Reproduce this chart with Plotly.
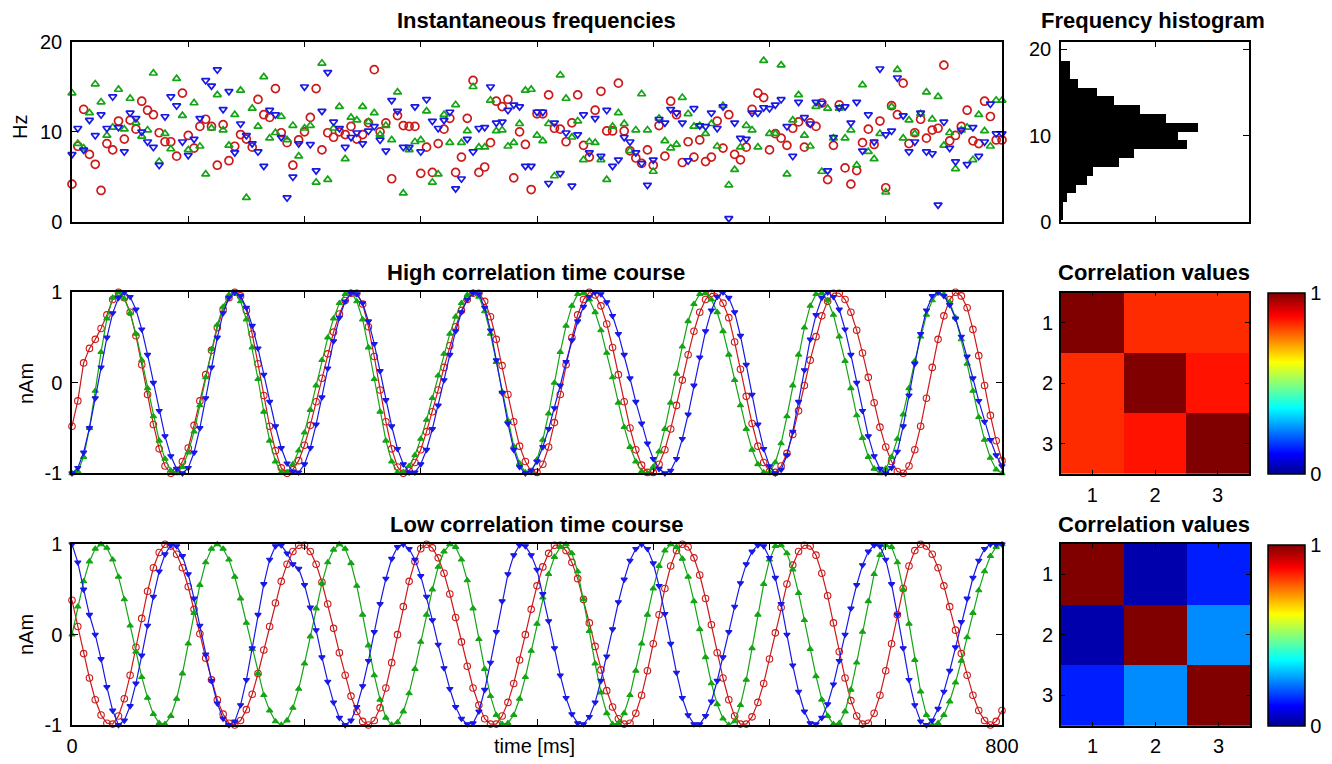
import plotly.graph_objects as go

W, H = 1332, 764
FONT = "Liberation Sans, Arial, sans-serif"

# sample times (ms), 5 ms sampling grid
time_ms = list(range(0, 805, 5))

# ---------------- instantaneous frequencies (Hz) ----------------
freq_red = [4.2, 8.4, 12.5, 7.5, 6.4, 3.5, 8.7, 8.0, 11.2, 9.2,
            11.3, 10.3, 13.4, 12.4, 11.9, 9.9, 8.9, 8.9, 7.3, 14.3,
            9.6, 8.2, 10.6, 11.4, 10.6, 6.3, 10.8, 6.8, 8.4, 9.7,
            9.2, 8.3, 13.6, 11.9, 11.6, 14.8, 9.9, 8.8, 6.3, 9.1,
            10.0, 11.6, 14.8, 8.0, 9.9, 9.4, 10.0, 9.7, 10.6, 9.2,
            9.7, 11.0, 16.9, 10.0, 11.0, 4.8, 11.8, 10.7, 10.6, 10.6,
            5.4, 8.3, 5.5, 8.7, 10.3, 11.5, 5.5, 7.2, 11.5, 15.7,
            5.5, 6.1, 8.8, 13.4, 12.8, 13.6, 4.9, 10.0, 8.6, 3.6,
            12.0, 12.0, 14.1, 10.4, 10.3, 8.9, 11.0, 14.1, 8.5, 7.2,
            12.4, 14.5, 10.1, 10.1, 15.4, 10.1, 7.9, 7.1, 6.5, 8.0,
            6.3, 10.7, 7.3, 13.4, 11.9, 6.6, 8.9, 7.2, 9.1, 6.7,
            7.2, 11.2, 8.2, 11.9, 7.5, 6.9, 8.3, 12.5, 14.3, 13.8,
            8.0, 9.8, 9.3, 8.5, 10.4, 11.1, 8.3, 11.0, 10.6, 13.2,
            4.7, 8.5, 13.0, 6.0, 4.2, 5.7, 8.8, 10.3, 8.6, 11.2,
            3.8, 12.9, 11.9, 15.4, 8.7, 9.9, 11.4, 9.3, 10.2, 10.4,
            17.4, 9.0, 9.6, 10.6, 12.4, 9.0, 8.7, 13.4, 11.7, 9.1, 9.1]
freq_green = [14.3, 8.7, 8.2, 12.1, 15.3, 13.3, 9.6, 10.5, 14.7, 10.3,
              13.7, 11.0, 9.5, 10.2, 16.5, 6.7, 9.8, 8.1, 15.9, 11.8,
              8.0, 13.2, 8.4, 5.3, 10.4, 14.1, 10.2, 8.5, 11.9, 14.6,
              2.7, 12.6, 10.6, 16.1, 9.3, 9.9, 11.7, 9.1, 10.7, 7.3,
              10.4, 10.7, 4.4, 17.6, 4.7, 10.4, 12.8, 7.0, 11.6, 11.3,
              12.8, 11.1, 12.1, 9.7, 10.7, 9.1, 14.4, 3.2, 8.0, 8.9,
              9.1, 12.3, 4.4, 5.3, 11.9, 8.8, 13.0, 8.8, 10.1, 15.0,
              8.3, 8.3, 13.5, 10.1, 10.2, 8.4, 8.8, 10.9, 14.6, 14.7,
              9.6, 9.0, 10.9, 5.1, 16.3, 13.7, 9.4, 11.2, 6.9, 8.9,
              8.8, 6.9, 4.7, 10.6, 12.1, 10.9, 7.9, 10.2, 14.2, 10.2,
              5.6, 11.5, 9.0, 8.2, 8.6, 13.8, 12.0, 10.6, 10.7, 9.8,
              10.9, 8.4, 12.9, 4.1, 5.8, 8.3, 10.7, 10.2, 8.3, 17.9,
              9.8, 9.8, 17.4, 5.3, 11.3, 14.1, 9.6, 8.4, 12.8, 5.6,
              12.6, 9.3, 12.6, 9.3, 10.2, 6.3, 15.2, 7.8, 7.0, 9.8,
              3.3, 12.8, 16.9, 9.3, 11.3, 9.8, 12.0, 14.4, 11.4, 13.9,
              8.5, 9.9, 5.9, 10.2, 10.5, 6.9, 11.9, 10.1, 8.4, 13.5, 13.5]
freq_blue = [7.5, 10.4, 8.0, 11.3, 9.6, 11.9, 10.4, 13.9, 10.5, 7.8,
             12.1, 11.5, 10.0, 8.9, 8.3, 6.3, 11.7, 13.9, 12.9, 8.9,
             7.4, 9.2, 11.5, 15.7, 15.1, 16.9, 12.5, 14.5, 7.7, 10.9,
             9.6, 8.7, 7.8, 6.2, 12.4, 11.9, 9.4, 2.7, 5.0, 8.7,
             15.0, 8.6, 5.7, 12.3, 16.6, 11.1, 10.4, 8.3, 9.4, 9.9,
             8.7, 10.1, 10.6, 9.1, 7.9, 13.5, 12.3, 8.3, 8.3, 12.8,
             7.8, 13.6, 11.2, 10.4, 11.3, 12.2, 3.7, 4.8, 9.2, 7.8,
             10.4, 10.5, 15.0, 11.0, 11.1, 12.4, 13.0, 12.8, 6.2, 6.2,
             12.2, 12.2, 4.3, 11.0, 5.4, 9.9, 4.0, 9.7, 11.9, 7.7,
             11.5, 7.3, 12.4, 6.2, 6.9, 9.4, 8.9, 7.7, 6.5, 4.1,
             6.9, 11.4, 11.0, 12.5, 12.1, 11.0, 6.8, 12.6, 10.7, 10.6,
             12.1, 10.4, 12.8, 0.4, 11.0, 9.3, 9.2, 12.1, 12.1, 12.7,
             12.6, 13.0, 13.6, 10.6, 7.3, 13.3, 11.6, 10.9, 13.3, 13.2,
             5.7, 9.4, 12.7, 12.8, 11.0, 13.3, 7.9, 11.9, 8.9, 17.0,
             9.7, 10.1, 16.0, 11.8, 7.8, 8.9, 12.1, 7.8, 7.6, 1.9,
             11.1, 8.2, 6.7, 10.2, 6.4, 10.5, 7.3, 8.9, 13.1, 9.8, 9.8]

# ---------------- frequency histogram ----------------
hist_centers = [0.81, 1.83, 2.85, 3.87, 4.89, 5.91, 6.93, 7.95, 8.97, 9.99,
                11.01, 12.03, 13.05, 14.07, 15.09, 16.11, 17.13, 18.15]
hist_counts = [1, 1, 3, 8, 14, 17, 31, 39, 67, 62,
               73, 56, 42, 28, 19, 9, 5, 5]

# ---------------- high correlation time course (nAm) ----------------
high_red = [-0.48, -0.2, 0.22, 0.38, 0.48, 0.6, 0.75, 0.92, 1.0,
            0.94, 0.78, 0.52, 0.2, -0.13, -0.46, -0.73, -0.92, -1.0,
            -0.97, -0.87, -0.72, -0.47, -0.2, 0.09, 0.36, 0.61, 0.81, 0.94, 1.0,
            0.96, 0.8, 0.54, 0.21, -0.14, -0.48, -0.75, -0.94, -1.0,
            -0.96, -0.86, -0.69, -0.47, -0.21, 0.05, 0.32, 0.56, 0.76, 0.91, 0.99,
            0.99, 0.87, 0.62, 0.29, -0.08, -0.43, -0.73, -0.93, -1.0,
            -0.97, -0.88, -0.74, -0.54, -0.32, -0.08, 0.17, 0.41, 0.62, 0.8, 0.92, 0.99,
            0.99, 0.9, 0.73, 0.48, 0.19, -0.13, -0.43, -0.7, -0.87, -0.98,
            -0.99, -0.9, -0.71, -0.44, -0.13, 0.2, 0.5, 0.75, 0.92, 1.0,
            0.97, 0.85, 0.65, 0.39, 0.09, -0.21, -0.5, -0.74, -0.91, -0.99,
            -0.99, -0.9, -0.74, -0.51, -0.25, 0.03, 0.31, 0.57, 0.78, 0.92, 0.99,
            0.98, 0.88, 0.72, 0.45, 0.15, -0.15, -0.45, -0.7, -0.88, -0.98,
            -0.99, -0.92, -0.78, -0.57, -0.31, -0.03, 0.25, 0.51, 0.74, 0.9, 0.99,
            0.99, 0.92, 0.78, 0.58, 0.33, 0.06, -0.22, -0.49, -0.71, -0.87, -0.98,
            -1.0, -0.92, -0.74, -0.48, -0.17, 0.17, 0.48, 0.74, 0.92, 1.0,
            0.96, 0.83, 0.59, 0.3, -0.03, -0.36, -0.64, -0.86]
high_green = [-1.0,
              -0.98, -0.82, -0.5, -0.09, 0.34, 0.71, 0.94,
              1.0, 0.93, 0.77, 0.54, 0.25, -0.06, -0.37, -0.64, -0.84, -0.97,
              -1.0, -0.93, -0.77, -0.54, -0.25, 0.06, 0.37, 0.64, 0.84, 0.97,
              1.0, 0.9, 0.7, 0.39, 0.04, -0.32, -0.64, -0.87, -0.99,
              -0.99, -0.9, -0.75, -0.55, -0.3, -0.03, 0.25, 0.5, 0.71, 0.88, 0.98,
              1.0, 0.9, 0.7, 0.39, 0.04, -0.32, -0.64, -0.87, -0.99,
              -0.99, -0.92, -0.8, -0.62, -0.41, -0.17, 0.08, 0.32, 0.54, 0.73, 0.88, 0.97, 1.0,
              0.95, 0.79, 0.54, 0.23, -0.1, -0.42, -0.7, -0.89, -0.99,
              -0.98, -0.85, -0.63, -0.34, 0.0, 0.34, 0.63, 0.85, 0.98,
              0.99, 0.92, 0.78, 0.58, 0.33, 0.06, -0.22, -0.49, -0.71, -0.87, -0.98,
              -1.0, -0.93, -0.76, -0.51, -0.22, 0.1, 0.4, 0.68, 0.87, 0.98,
              0.99, 0.92, 0.78, 0.57, 0.31, 0.03, -0.25, -0.51, -0.74, -0.9, -0.99,
              -0.99, -0.88, -0.67, -0.37, -0.03, 0.31, 0.61, 0.85, 0.98,
              0.99, 0.91, 0.75, 0.51, 0.24, -0.06, -0.36, -0.61, -0.82, -0.95,
              -1.0, -0.95, -0.82, -0.62, -0.35, -0.06, 0.24, 0.51, 0.75, 0.91, 0.99,
              0.98, 0.89, 0.72, 0.48, 0.21, -0.09, -0.38, -0.63, -0.83, -0.96, -1.0]
high_blue = [-1.0, -0.94, -0.77, -0.5, -0.17, 0.17, 0.5, 0.77, 0.94, 1.0,
             0.95, 0.81, 0.59, 0.31, 0.0, -0.31, -0.59, -0.81, -0.95, -1.0,
             -0.94, -0.77, -0.5, -0.17, 0.17, 0.5, 0.77, 0.94, 1.0,
             0.96, 0.83, 0.63, 0.38, 0.09, -0.21, -0.48, -0.72, -0.89, -0.98,
             -0.99, -0.9, -0.72, -0.46, -0.16, 0.16, 0.46, 0.72, 0.9, 0.99,
             0.98, 0.88, 0.68, 0.43, 0.13, -0.19, -0.48, -0.73, -0.9, -0.99,
             -0.99, -0.9, -0.74, -0.51, -0.25, 0.03, 0.31, 0.57, 0.78, 0.92, 0.99,
             0.98, 0.83, 0.58, 0.25, -0.11, -0.45, -0.74, -0.93, -1.0,
             -0.97, -0.87, -0.71, -0.51, -0.28, -0.03, 0.23, 0.47, 0.68, 0.84, 0.95, 1.0,
             0.98, 0.89, 0.74, 0.54, 0.31, 0.05, -0.21, -0.45, -0.67, -0.84, -0.95, -1.0,
             -0.97, -0.84, -0.62, -0.35, -0.03, 0.28, 0.57, 0.8, 0.95, 1.0,
             0.94, 0.78, 0.52, 0.2, -0.13, -0.46, -0.73, -0.92, -1.0,
             -0.96, -0.8, -0.54, -0.21, 0.14, 0.48, 0.75, 0.94, 1.0,
             0.95, 0.81, 0.59, 0.31, 0.0, -0.31, -0.59, -0.81, -0.95, -1.0,
             -0.94, -0.76, -0.48, -0.14, 0.21, 0.54, 0.8, 0.96,
             1.0, 0.96, 0.86, 0.71, 0.51, 0.29, 0.05, -0.2, -0.43, -0.63, -0.8, -0.92]

# ---------------- low correlation time course (nAm) ----------------
low_red = [0.38, 0.09, -0.21, -0.48, -0.72, -0.89, -0.98,
           -0.99, -0.9, -0.71, -0.45, -0.14, 0.18, 0.48, 0.74, 0.91, 1.0,
           0.98, 0.89, 0.74, 0.53, 0.28, 0.01, -0.26, -0.5, -0.72, -0.88, -0.98,
           -1.0, -0.95, -0.83, -0.66, -0.43, -0.17, 0.09, 0.35, 0.59, 0.78, 0.92, 0.99,
           0.99, 0.92, 0.78, 0.58, 0.34, 0.07, -0.2, -0.45, -0.68, -0.85, -0.96, -1.0,
           -0.95, -0.81, -0.59, -0.31, 0.0, 0.31, 0.59, 0.81, 0.95, 1.0,
           0.96, 0.85, 0.68, 0.45, 0.19, -0.08, -0.35, -0.59, -0.78, -0.93, -0.99,
           -0.99, -0.9, -0.75, -0.54, -0.28, 0.0, 0.28, 0.54, 0.75, 0.9, 0.99,
           0.99, 0.93, 0.8, 0.62, 0.39, 0.13, -0.13, -0.39, -0.62, -0.8, -0.93, -0.99,
           -0.98, -0.87, -0.67, -0.4, -0.1, 0.22, 0.51, 0.76, 0.93, 1.0,
           0.97, 0.85, 0.66, 0.4, 0.11, -0.2, -0.48, -0.72, -0.9, -0.99,
           -0.99, -0.91, -0.75, -0.54, -0.27, 0.02, 0.3, 0.56, 0.77, 0.92, 0.99,
           0.98, 0.88, 0.68, 0.43, 0.13, -0.19, -0.48, -0.73, -0.9, -0.99,
           -0.98, -0.87, -0.67, -0.4, -0.1, 0.22, 0.51, 0.76, 0.93, 1.0,
           0.98, 0.89, 0.74, 0.54, 0.31, 0.05, -0.21, -0.45, -0.67, -0.84, -0.95, -1.0,
           -0.96, -0.84]
low_green = [0.0, 0.31, 0.59, 0.81, 0.95, 1.0,
             0.96, 0.83, 0.64, 0.39, 0.1, -0.19, -0.47, -0.7, -0.88, -0.98,
             -0.99, -0.9, -0.71, -0.43, -0.1, 0.24, 0.55, 0.8, 0.95,
             1.0, 0.95, 0.83, 0.64, 0.4, 0.13, -0.16, -0.43, -0.67, -0.84, -0.96, -1.0,
             -0.95, -0.81, -0.6, -0.32, -0.02, 0.29, 0.57, 0.8, 0.94, 1.0,
             0.95, 0.79, 0.54, 0.22, -0.12, -0.45, -0.72, -0.92, -1.0,
             -0.97, -0.85, -0.65, -0.38, -0.08, 0.22, 0.5, 0.75, 0.92, 1.0,
             0.97, 0.83, 0.6, 0.29, -0.05, -0.38, -0.68, -0.89, -0.99,
             -0.98, -0.89, -0.71, -0.47, -0.18, 0.12, 0.41, 0.67, 0.86, 0.97,
             1.0, 0.9, 0.7, 0.39, 0.04, -0.32, -0.64, -0.87, -0.99,
             -0.98, -0.87, -0.67, -0.4, -0.1, 0.22, 0.51, 0.76, 0.93, 1.0,
             0.97, 0.84, 0.64, 0.37, 0.06, -0.25, -0.54, -0.77, -0.93, -1.0,
             -0.96, -0.78, -0.5, -0.15, 0.22, 0.56, 0.83, 0.98,
             0.99, 0.9, 0.72, 0.46, 0.16, -0.16, -0.46, -0.72, -0.9, -0.99,
             -0.98, -0.85, -0.61, -0.31, 0.03, 0.37, 0.67, 0.88, 0.99,
             0.97, 0.8, 0.5, 0.12, -0.28, -0.63, -0.89, -1.0,
             -0.98, -0.89, -0.74, -0.53, -0.29, -0.03, 0.24, 0.49, 0.7, 0.87, 0.97, 1.0]
low_blue = [1.0, 0.8, 0.5, 0.22, 0.0, -0.27, -0.58, -0.84, -1.0,
            -0.95, -0.79, -0.54, -0.23, 0.1, 0.42, 0.7, 0.89, 0.99,
            0.98, 0.87, 0.67, 0.4, 0.1, -0.22, -0.51, -0.76, -0.93, -1.0,
            -0.96, -0.78, -0.5, -0.15, 0.22, 0.56, 0.83, 0.98,
            0.99, 0.9, 0.78, 0.73, 0.55, 0.3, 0.05, -0.25, -0.52, -0.75, -0.92, -1.0,
            -0.95, -0.8, -0.57, -0.29, 0.03, 0.34, 0.62, 0.84, 0.97,
            1.0, 0.95, 0.83, 0.65, 0.42, 0.16, -0.11, -0.37, -0.6, -0.8, -0.93, -0.99,
            -0.98, -0.85, -0.61, -0.31, 0.03, 0.37, 0.67, 0.88, 0.99,
            0.98, 0.88, 0.72, 0.45, 0.15, -0.15, -0.45, -0.7, -0.88, -0.98,
            -0.99, -0.91, -0.75, -0.51, -0.24, 0.06, 0.36, 0.61, 0.82, 0.95, 1.0,
            0.95, 0.79, 0.54, 0.23, -0.1, -0.42, -0.7, -0.89, -0.99,
            -0.99, -0.9, -0.74, -0.51, -0.25, 0.03, 0.31, 0.57, 0.78, 0.92, 0.99,
            0.98, 0.85, 0.63, 0.34, 0.0, -0.34, -0.63, -0.85, -0.98,
            -0.99, -0.92, -0.77, -0.55, -0.29, 0.0, 0.29, 0.55, 0.77, 0.92, 0.99,
            0.98, 0.83, 0.56, 0.22, -0.15, -0.5, -0.78, -0.96,
            -1.0, -0.95, -0.82, -0.63, -0.4, -0.14, 0.14, 0.4, 0.63, 0.82, 0.95, 1.0, 1.0, 1.0]

# ---------------- correlation matrices ----------------
corr_labels = [1, 2, 3]
corr_high = [[1.0, 0.83, 0.83],
             [0.83, 1.0, 0.855],
             [0.83, 0.855, 1.0]]
corr_low = [[1.0, 0.03, 0.14],
            [0.03, 1.0, 0.25],
            [0.14, 0.25, 1.0]]

x_ticks = [0, 100, 200, 300, 400, 500, 600, 700, 800]
x_ticktext = ["0", "", "", "", "", "", "", "", "800"]
nam_ticks = [-1, 0, 1]
nam_ticktext = ["-1", "0", "1"]
hz_ticks = [0, 10, 20]

RED = "rgb(205,25,25)"
GREEN = "rgb(20,165,20)"
BLUE = "rgb(25,25,230)"
JET = [[0.0, "rgb(0,0,143)"], [0.111, "rgb(0,0,255)"], [0.365, "rgb(0,255,255)"],
       [0.619, "rgb(255,255,0)"], [0.873, "rgb(255,0,0)"], [1.0, "rgb(128,0,0)"]]


def px(x):
    return x / W


def py(y):
    return 1 - y / H


fig = go.Figure()

# top scatter
for vals, sym, col, sz in [(freq_red, "circle-open", RED, 8),
                           (freq_green, "triangle-up-open", GREEN, 7),
                           (freq_blue, "triangle-down-open", BLUE, 7)]:
    fig.add_trace(go.Scatter(x=time_ms, y=vals, mode="markers", xaxis="x", yaxis="y",
                             marker=dict(symbol=sym, size=sz, color=col, line=dict(width=1.7, color=col)),
                             cliponaxis=False, showlegend=False))

# histogram
fig.add_trace(go.Bar(x=hist_counts, y=hist_centers, orientation="h", width=1.03,
                     marker=dict(color="black", line=dict(width=0)),
                     xaxis="x2", yaxis="y2", showlegend=False))

# time courses
for xa, ya, series in [("x3", "y3", (high_red, high_green, high_blue)),
                       ("x5", "y5", (low_red, low_green, low_blue))]:
    r, g, b = series
    for vals, sym, col, sz in [(r, "circle-open", RED, 6.5),
                               (g, "triangle-up", GREEN, 5.5),
                               (b, "triangle-down", BLUE, 5.5)]:
        fig.add_trace(go.Scatter(x=time_ms, y=vals, mode="lines+markers", xaxis=xa, yaxis=ya,
                                 line=dict(color=col, width=1.2),
                                 marker=dict(symbol=sym, size=sz, color=col, line=dict(width=1.1, color=col)),
                                 cliponaxis=False, showlegend=False))

# heatmaps
for xa, ya, z, top, bot in [("x4", "y4", corr_high, 293, 474), ("x6", "y6", corr_low, 545, 726)]:
    fig.add_trace(go.Heatmap(z=z, x=corr_labels, y=corr_labels, xaxis=xa, yaxis=ya,
                             colorscale=JET, zmin=0, zmax=1, showscale=True,
                             colorbar=dict(x=px(1268), xanchor="left", thickness=37, thicknessmode="pixels",
                                           len=(bot - top) / H, lenmode="fraction",
                                           y=py((top + bot) / 2), yanchor="middle",
                                           xpad=0, ypad=0, outlinewidth=1.5, outlinecolor="black",
                                           tickvals=[0, 1], ticktext=["0", "1"], ticks="",
                                           tickfont=dict(family=FONT, size=20, color="black")),
                             hoverinfo="skip"))

base = dict(showline=True, linecolor="black", linewidth=1.5, mirror="ticks", ticks="inside",
            ticklen=6, tickwidth=1.2, tickcolor="black", showgrid=False, zeroline=False,
            automargin=False, tickfont=dict(family=FONT, size=20, color="black"))

L, R = px(72), px(1002)
HL, HR = px(1061), px(1249)

layout_axes = dict(
    xaxis=dict(base, domain=[L, R], range=[0, 800], tickvals=x_ticks, showticklabels=False, anchor="y"),
    yaxis=dict(base, domain=[py(222), py(41.7)], range=[0, 20], tickvals=hz_ticks, anchor="x",
               ticklabelstandoff=4),
    xaxis2=dict(base, domain=[HL, HR], range=[0, 100], tickvals=[50], showticklabels=False, anchor="y2"),
    yaxis2=dict(base, domain=[py(222), py(41.7)], range=[0, 20.9], tickvals=hz_ticks, anchor="x2",
                ticklabelstandoff=4),
    xaxis3=dict(base, domain=[L, R], range=[0, 800], tickvals=x_ticks, showticklabels=False, anchor="y3"),
    yaxis3=dict(base, domain=[py(473.3), py(292.3)], range=[-1, 1], tickvals=nam_ticks,
                ticktext=nam_ticktext, anchor="x3", ticklabelstandoff=4),
    xaxis4=dict(base, domain=[HL, HR], range=[0.5, 3.5], tickvals=corr_labels, anchor="y4", ticklen=4,
                ticklabelstandoff=2),
    yaxis4=dict(base, domain=[py(474), py(292.7)], range=[3.5, 0.5], tickvals=corr_labels, anchor="x4",
                ticklen=4, showticklabels=False),
    xaxis5=dict(base, domain=[L, R], range=[0, 800], tickvals=x_ticks, ticktext=x_ticktext, anchor="y5",
                ticklabelstandoff=2),
    yaxis5=dict(base, domain=[py(725), py(544.3)], range=[-1, 1], tickvals=nam_ticks,
                ticktext=nam_ticktext, anchor="x5", ticklabelstandoff=4),
    xaxis6=dict(base, domain=[HL, px(1250)], range=[0.5, 3.5], tickvals=corr_labels, anchor="y6", ticklen=4,
                ticklabelstandoff=2),
    yaxis6=dict(base, domain=[py(725.7), py(544)], range=[3.5, 0.5], tickvals=corr_labels, anchor="x6",
                ticklen=4, showticklabels=False),
)


def ann(text, x, y, size=22, bold=True, angle=0, xanchor="center"):
    return dict(text=("<b>%s</b>" % text) if bold else text, x=px(x), y=py(y), xref="paper", yref="paper",
                showarrow=False, xanchor=xanchor, yanchor="middle", textangle=angle,
                font=dict(family=FONT, size=size, color="black"))


annotations = [
    ann("Instantaneous frequencies", 536, 20.5),
    ann("Frequency histogram", 1153, 20.5),
    ann("High correlation time course", 536, 272.5),
    ann("Correlation values", 1154, 272.5),
    ann("Low correlation time course", 536, 524),
    ann("Correlation values", 1154, 524),
    ann("Hz", 20, 127, size=20, bold=False, angle=-90),
    ann("nAm", 26, 384, size=20, bold=False, angle=-90),
    ann("nAm", 26, 635, size=20, bold=False, angle=-90),
    ann("time [ms]", 534, 746, size=20, bold=False),
]

# row labels of the correlation matrices, placed in the axes' own y coordinates
for ya, xa in [("y4", "x4"), ("y6", "x6")]:
    for lab in corr_labels:
        annotations.append(dict(text=str(lab), xref="paper", x=px(1055), xanchor="right",
                                yref=ya, y=lab, yanchor="middle", showarrow=False,
                                font=dict(family=FONT, size=20, color="black")))

fig.update_layout(template="none", width=W, height=H, margin=dict(l=0, r=0, t=0, b=0, pad=0),
                  paper_bgcolor="white", plot_bgcolor="white", showlegend=False,
                  bargap=0, annotations=annotations, **layout_axes)

fig.write_html("out.html", config={"displayModeBar": False},
               post_script="document.body.style.margin='0px'; document.body.style.overflow='hidden';")
